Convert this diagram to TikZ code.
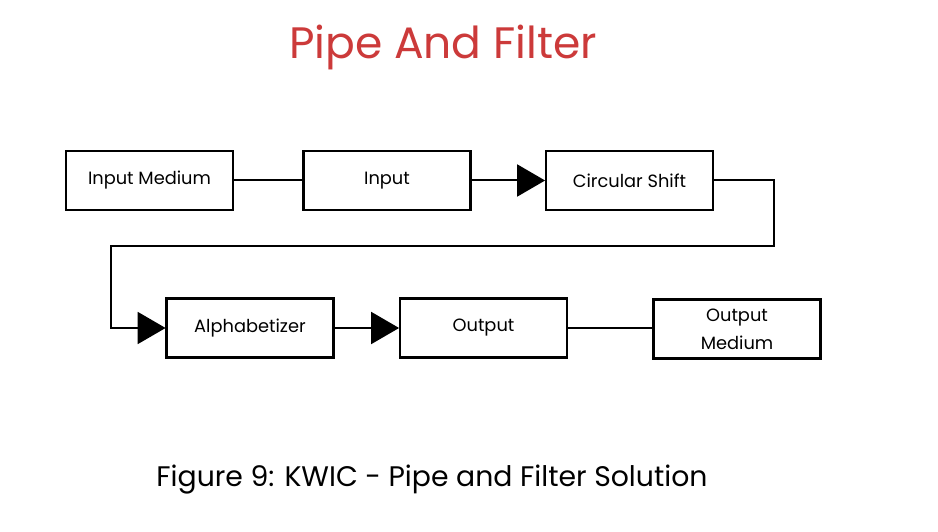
\documentclass[tikz,border=0pt]{standalone}
\usepackage{fontspec}
\setmainfont{Poppins}
\usetikzlibrary{arrows.meta}
\definecolor{titlered}{RGB}{204,58,58}
\tikzset{
  blk/.style={draw, line width=2.8pt, minimum width=167pt, minimum height=59pt, inner sep=0pt, font=\fontsize{17.8}{19}\selectfont, align=center},
  pipe/.style={line width=2pt},
  fpipe/.style={pipe, -{Triangle[length=28pt,width=32pt]}, shorten >=-0.5pt},
}
\begin{document}
\begin{tikzpicture}[x=1pt,y=-1pt]
\useasboundingbox (0,0) rectangle (938,532);
\fill[white] (0,0) rectangle (938,532);
\node[text=titlered, font=\fontsize{44}{50}\selectfont] (title) at (443,47) {Pipe And Filter};
\node[blk] (inm) at (149.5,180.5) {Input Medium};
\node[blk] (inp) at (387,180.5) {Input};
\node[blk] (cs) at (629.5,180.5) {Circular Shift};
\node[blk] (alp) at (250,328) {Alphabetizer};
\node[blk] (out) at (483.5,328) {Output};
\node[blk, font=\fontsize{17.8}{28}\selectfont] (outm) at (737,329) {Output\\Medium};
\coordinate (c1) at (774,180.5);
\coordinate (c2) at (774,246);
\coordinate (c3) at (111,246);
\coordinate (c4) at (111,328);
\draw[pipe] (inm.east) -- (inp.west);
\draw[fpipe] (inp.east) -- (cs.west);
\draw[fpipe] (cs.east) -- (c1) -- (c2) -- (c3) -- (c4) -- (alp.west);
\draw[fpipe] (alp.east) -- (out.west);
\draw[pipe] (out.east) -- (out.east -| outm.west);
\node[font=\fontsize{28.3}{32}\selectfont] (cap) at (432,480) {Figure 9: KWIC - Pipe and Filter Solution};
\end{tikzpicture}
\end{document}
